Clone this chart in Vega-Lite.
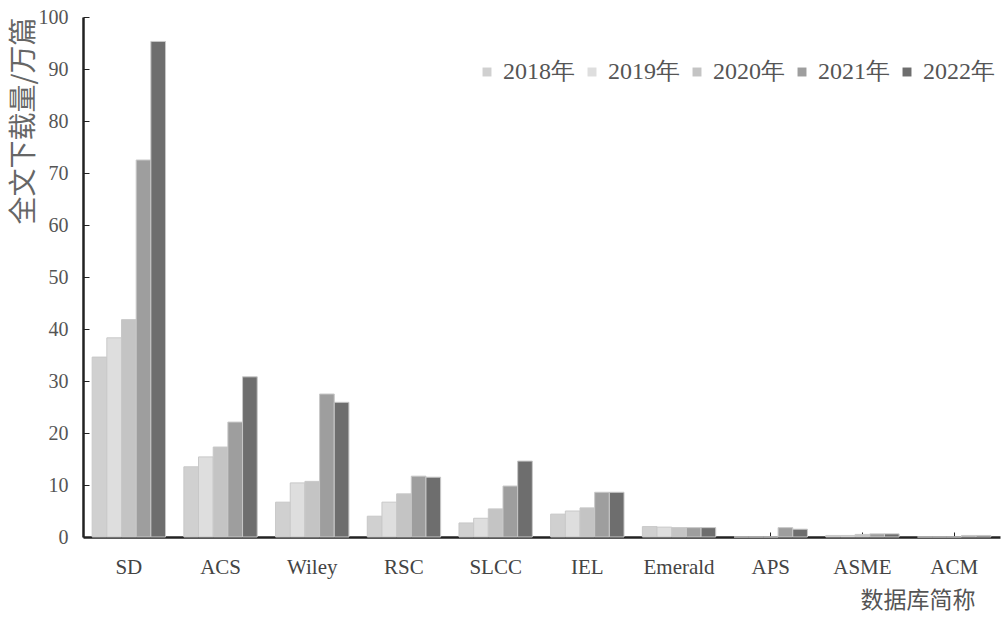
{
  "$schema": "https://vega.github.io/schema/vega-lite/v6.json",
  "width": 917,
  "height": 520,
  "autosize": {"type": "none"},
  "padding": {"left": 83, "top": 17, "right": 8, "bottom": 81},
  "background": "white",
  "data": {
    "values": [
      {"db": "SD", "year": "2018年", "v": 34.6},
      {"db": "SD", "year": "2019年", "v": 38.3},
      {"db": "SD", "year": "2020年", "v": 41.8},
      {"db": "SD", "year": "2021年", "v": 72.5},
      {"db": "SD", "year": "2022年", "v": 95.3},
      {"db": "ACS", "year": "2018年", "v": 13.5},
      {"db": "ACS", "year": "2019年", "v": 15.4},
      {"db": "ACS", "year": "2020年", "v": 17.3},
      {"db": "ACS", "year": "2021年", "v": 22.1},
      {"db": "ACS", "year": "2022年", "v": 30.8},
      {"db": "Wiley", "year": "2018年", "v": 6.7},
      {"db": "Wiley", "year": "2019年", "v": 10.4},
      {"db": "Wiley", "year": "2020年", "v": 10.7},
      {"db": "Wiley", "year": "2021年", "v": 27.5},
      {"db": "Wiley", "year": "2022年", "v": 25.9},
      {"db": "RSC", "year": "2018年", "v": 4.0},
      {"db": "RSC", "year": "2019年", "v": 6.7},
      {"db": "RSC", "year": "2020年", "v": 8.3},
      {"db": "RSC", "year": "2021年", "v": 11.7},
      {"db": "RSC", "year": "2022年", "v": 11.5},
      {"db": "SLCC", "year": "2018年", "v": 2.7},
      {"db": "SLCC", "year": "2019年", "v": 3.6},
      {"db": "SLCC", "year": "2020年", "v": 5.4},
      {"db": "SLCC", "year": "2021年", "v": 9.8},
      {"db": "SLCC", "year": "2022年", "v": 14.6},
      {"db": "IEL", "year": "2018年", "v": 4.4},
      {"db": "IEL", "year": "2019年", "v": 5.0},
      {"db": "IEL", "year": "2020年", "v": 5.6},
      {"db": "IEL", "year": "2021年", "v": 8.6},
      {"db": "IEL", "year": "2022年", "v": 8.6},
      {"db": "Emerald", "year": "2018年", "v": 2.0},
      {"db": "Emerald", "year": "2019年", "v": 1.9},
      {"db": "Emerald", "year": "2020年", "v": 1.8},
      {"db": "Emerald", "year": "2021年", "v": 1.8},
      {"db": "Emerald", "year": "2022年", "v": 1.8},
      {"db": "APS", "year": "2018年", "v": 0},
      {"db": "APS", "year": "2019年", "v": 0},
      {"db": "APS", "year": "2020年", "v": 0},
      {"db": "APS", "year": "2021年", "v": 1.8},
      {"db": "APS", "year": "2022年", "v": 1.5},
      {"db": "ASME", "year": "2018年", "v": 0.3},
      {"db": "ASME", "year": "2019年", "v": 0.3},
      {"db": "ASME", "year": "2020年", "v": 0.5},
      {"db": "ASME", "year": "2021年", "v": 0.6},
      {"db": "ASME", "year": "2022年", "v": 0.6},
      {"db": "ACM", "year": "2018年", "v": 0},
      {"db": "ACM", "year": "2019年", "v": 0},
      {"db": "ACM", "year": "2020年", "v": 0},
      {"db": "ACM", "year": "2021年", "v": 0.3},
      {"db": "ACM", "year": "2022年", "v": 0.3}
    ]
  },
  "mark": {"type": "bar", "stroke": "#c8c8c8", "strokeWidth": 1},
  "encoding": {
    "x": {
      "field": "db",
      "type": "nominal",
      "sort": null,
      "scale": {"paddingInner": 0.2, "paddingOuter": 0.1},
      "axis": {
        "title": "数据库简称",
        "titleFont": "Noto Sans CJK SC",
        "titleFontWeight": "normal",
        "titleFontSize": 23,
        "titleColor": "#555",
        "titleX": 892,
        "titleAlign": "right",
        "titleAnchor": null,
        "titlePadding": 12,
        "labelAngle": 0,
        "labelFont": "Liberation Serif",
        "labelFontSize": 21,
        "labelColor": "#444",
        "labelPadding": 24,
        "tickSize": -5,
        "tickColor": "#222",
        "domainColor": "#222",
        "domainWidth": 2.5
      }
    },
    "xOffset": {"field": "year", "type": "nominal"},
    "y": {
      "field": "v",
      "type": "quantitative",
      "scale": {"domain": [0, 100], "nice": false},
      "axis": {
        "title": "全文下载量/万篇",
        "titleFont": "Noto Sans CJK SC",
        "titleFontWeight": "normal",
        "titleFontSize": 28,
        "titleColor": "#666",
        "titleAnchor": "end",
        "titlePadding": 0,
        "values": [0, 10, 20, 30, 40, 50, 60, 70, 80, 90, 100],
        "labelFont": "Liberation Serif",
        "labelFontSize": 20,
        "labelColor": "#555",
        "labelPadding": 21,
        "tickSize": -6,
        "tickColor": "#222",
        "domainColor": "#222",
        "domainWidth": 2.5,
        "grid": false
      }
    },
    "fill": {
      "field": "year",
      "type": "nominal",
      "scale": {
        "domain": ["2018年", "2019年", "2020年", "2021年", "2022年"],
        "range": ["#d0d0d0", "#dedede", "#c4c4c4", "#9e9e9e", "#6e6e6e"]
      },
      "legend": {
        "title": null,
        "orient": "none",
        "legendX": 392,
        "legendY": 43,
        "direction": "horizontal",
        "symbolType": "square",
        "symbolSize": 80,
        "symbolStrokeWidth": 0,
        "labelFont": "Liberation Serif",
        "labelFontSize": 24,
        "labelColor": "#555",
        "labelOffset": 4,
        "columnPadding": 5
      }
    }
  },
  "config": {"view": {"stroke": null}}
}
